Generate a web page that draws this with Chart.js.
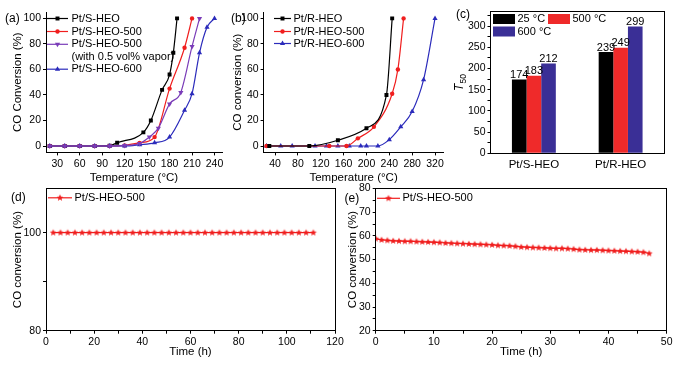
<!DOCTYPE html>
<html><head><meta charset="utf-8">
<script src="https://cdn.jsdelivr.net/npm/chart.js@4.4.1/dist/chart.umd.min.js"></script>
<style>
html,body{margin:0;padding:0;background:#fff;}
#wrap{position:relative;width:675px;height:365px;overflow:hidden;background:#fff;}
#wrap canvas{position:absolute;left:0;top:0;}
</style></head><body>
<div id="wrap">
<canvas id="ca" width="675" height="365"></canvas>
<canvas id="cb" width="675" height="365"></canvas>
<canvas id="cc" width="675" height="365"></canvas>
<canvas id="cd" width="675" height="365"></canvas>
<canvas id="ce" width="675" height="365"></canvas>
</div>
<script>
// ================= DATA =================
// (a)
const aSeriesNames = ['Pt/S-HEO', 'Pt/S-HEO-500', 'Pt/S-HEO-500', 'Pt/S-HEO-600'];
const aVaporNote = '(with 0.5 vol% vapor)';
const aTempSHEO = [20, 40, 60, 80, 100, 110, 145, 155, 170, 180, 185, 190];
const aConvSHEO = [0, 0, 0, 0, 0.3, 2.6, 10.7, 20, 44, 56, 73, 100];
const aTempSHEO500 = [20, 40, 60, 80, 100, 120, 140, 160, 180, 200, 210];
const aConvSHEO500 = [0, 0, 0, 0, 0, 0.5, 2.5, 7, 45, 77, 100];
const aTempVapor = [20, 40, 60, 80, 100, 120, 140, 153, 165, 180, 195, 210, 220];
const aConvVapor = [0, 0, 0, 0, 0, 0.5, 2, 7, 14, 33, 42, 78, 100];
const aTempSHEO600 = [20, 40, 60, 80, 100, 120, 140, 160, 180, 200, 210, 220, 230, 240];
const aConvSHEO600 = [0, 0, 0, 0, 0, 0, 1, 2.5, 7, 28, 41, 73, 93, 100];
const aTempTicks = [30, 60, 90, 120, 150, 180, 210, 240];
const convTicks = [0, 20, 40, 60, 80, 100];
// (b)
const bSeriesNames = ['Pt/R-HEO', 'Pt/R-HEO-500', 'Pt/R-HEO-600'];
const bTempRHEO = [30, 100, 150, 200, 235, 245];
const bConvRHEO = [0, 0, 4.5, 14, 40, 100];
const bTempRHEO500 = [25, 135, 165, 185, 213, 245, 255, 265];
const bConvRHEO500 = [0, 0, 0, 6, 15, 41, 60, 100];
const bTempRHEO600 = [25, 50, 70, 110, 130, 150, 170, 190, 200, 220, 240, 260, 280, 300, 320];
const bConvRHEO600 = [0, 0, 0, 0, 0, 0, 0, 0, 0, 0, 5, 15, 27, 52, 100];
const bTempTicks = [40, 80, 120, 160, 200, 240, 280, 320];
// (c)
const cCategories = ['Pt/S-HEO', 'Pt/R-HEO'];
const cSeriesNames = ['25 °C', '500 °C', '600 °C'];
const cT50at25 = [174, 239];
const cT50at500 = [183, 249];
const cT50at600 = [212, 299];
const cTicks = [0, 50, 100, 150, 200, 250, 300];
const cMinorTicks = [25, 75, 125, 175, 225, 275, 325];
// (d)
const dSeriesName = 'Pt/S-HEO-500';
const dTime = [3, 6, 9, 12, 15, 18, 21, 24, 27, 30, 33, 36, 39, 42, 45, 48, 51, 54, 57, 60, 63, 66, 69, 72, 75, 78, 81, 84, 87, 90, 93, 96, 99, 102, 105, 108, 111];
const dConv = [100, 100, 100, 100, 100, 100, 100, 100, 100, 100, 100, 100, 100, 100, 100, 100, 100, 100, 100, 100, 100, 100, 100, 100, 100, 100, 100, 100, 100, 100, 100, 100, 100, 100, 100, 100, 100];
const dTimeTicks = [0, 20, 40, 60, 80, 100, 120];
const dTimeMinor = [10, 30, 50, 70, 90, 110];
const dConvTicks = [80, 100];
const dConvMinor = [90];
// (e)
const eSeriesName = 'Pt/S-HEO-500';
const eTime = [0, 1, 2, 3, 4, 5, 6, 7, 8, 9, 10, 11, 12, 13, 14, 15, 16, 17, 18, 19, 20, 21, 22, 23, 24, 25, 26, 27, 28, 29, 30, 31, 32, 33, 34, 35, 36, 37, 38, 39, 40, 41, 42, 43, 44, 45, 46, 47];
const eConv = [58.8, 58.3, 58.1, 57.9, 57.8, 57.7, 57.7, 57.6, 57.5, 57.4, 57.3, 57.2, 57.0, 56.9, 56.8, 56.7, 56.6, 56.5, 56.4, 56.3, 56.2, 56.0, 55.9, 55.8, 55.6, 55.3, 55.2, 55.1, 55.0, 54.9, 54.8, 54.7, 54.7, 54.6, 54.4, 54.2, 54.1, 54.0, 54.0, 53.9, 53.8, 53.7, 53.6, 53.5, 53.4, 53.3, 53.1, 52.6];
const eTimeTicks = [0, 10, 20, 30, 40, 50];
const eTimeMinor = [5, 15, 25, 35, 45];
const eConvTicks = [20, 30, 40, 50, 60, 70, 80];
const eConvMinor = [25, 35, 45, 55, 65, 75];

// ================= STYLE / HELPERS =================
const FONT = "'Liberation Sans', Arial, Helvetica, sans-serif";
const TICK_PX = 10.5, TITLE_PX = 11.5, LEG_PX = 11, PANEL_PX = 12;
Chart.defaults.font.family = FONT;
Chart.defaults.color = '#000';
const BLACK = '#000000', RED = '#f01e1e', PURPLE = '#7a3cb8', BLUE = '#2b2bbb';
const BAR_BLACK = '#000000', BAR_RED = '#ef2a2a', BAR_BLUE = '#3a2f96';

function makeStar(color, r) {
  const size = Math.ceil(r * 2 + 2);
  const c = document.createElement('canvas');
  c.width = c.height = size;
  const g = c.getContext('2d');
  g.fillStyle = color;
  g.beginPath();
  for (let i = 0; i < 10; i++) {
    const rr = i % 2 ? r * 0.45 : r;
    const a = -Math.PI / 2 + i * Math.PI / 5;
    g.lineTo(size / 2 + rr * Math.cos(a), size / 2 + rr * Math.sin(a));
  }
  g.closePath(); g.fill();
  return c;
}
const STAR = makeStar(RED, 3.6);
const MK = {
  square: {style: 'rect', r: 2.8},
  circle: {style: 'circle', r: 2.2},
  down: {style: 'triangle', r: 3.0, rot: 180},
  up: {style: 'triangle', r: 3.0, rot: 0},
  star: {style: STAR, r: 3.6}
};

function pts(xs, ys) { return xs.map((x, i) => ({x: x, y: ys[i]})); }

function axis(o) {
  const minorSet = new Set(o.minor || []);
  const all = [...o.ticks, ...(o.minor || [])].sort((a, b) => a - b);
  return {
    type: 'linear', position: o.pos, min: o.min, max: o.max,
    border: {display: true, color: '#000', width: 1},
    grid: {display: true, drawOnChartArea: false, drawTicks: true, tickLength: 3, color: '#000', tickColor: '#000', lineWidth: 1},
    ticks: {autoSkip: false, maxRotation: 0, minRotation: 0, padding: 2, color: '#000', font: {size: TICK_PX},
      callback: v => minorSet.has(v) ? '' : String(v)},
    afterBuildTicks: s => { s.ticks = all.map(v => ({value: v})); },
    afterFit: s => { if (o.pos === 'left') s.width = o.size; else s.height = o.size; },
    title: o.title ? {display: true, text: o.title, color: '#000', font: {size: TITLE_PX}, padding: 0} : {display: false}
  };
}

function lineDs(label, data, color, m, order) {
  return {label, data, borderColor: color, backgroundColor: color, borderWidth: 1.2,
    pointStyle: m.style, pointRadius: m.r, pointHoverRadius: m.r, pointRotation: m.rot || 0,
    pointBackgroundColor: color, pointBorderColor: color, pointBorderWidth: 0,
    cubicInterpolationMode: 'monotone', fill: false, order: order};
}

function drawMarker(ctx, m, x, y, color) {
  ctx.save();
  ctx.fillStyle = color;
  if (m.style === 'rect') {
    const s = m.r * Math.SQRT1_2; ctx.fillRect(x - s, y - s, 2 * s, 2 * s);
  } else if (m.style === 'circle') {
    ctx.beginPath(); ctx.arc(x, y, m.r, 0, Math.PI * 2); ctx.fill();
  } else if (m.style === 'triangle') {
    let rad = (m.rot || 0) * Math.PI / 180;
    ctx.beginPath();
    for (let i = 0; i < 3; i++) { ctx.lineTo(x + Math.sin(rad) * m.r, y - Math.cos(rad) * m.r); rad += 2 * Math.PI / 3; }
    ctx.closePath(); ctx.fill();
  } else if (m.style instanceof HTMLCanvasElement) {
    ctx.drawImage(m.style, x - m.style.width / 2, y - m.style.height / 2);
  }
  ctx.restore();
}

function overlay(items) {
  return {
    id: 'overlay' + Math.random().toString(36).slice(2),
    afterDraw(chart) {
      const ctx = chart.ctx;
      items.forEach(it => {
        ctx.save();
        if (it.kind === 'line') {
          ctx.strokeStyle = it.color; ctx.lineWidth = 1.2;
          ctx.beginPath(); ctx.moveTo(it.x0, it.y); ctx.lineTo(it.x1, it.y); ctx.stroke();
          drawMarker(ctx, it.marker, (it.x0 + it.x1) / 2, it.y, it.color);
        } else if (it.kind === 'box') {
          ctx.fillStyle = it.color; ctx.fillRect(it.x0, it.y - it.h / 2, it.x1 - it.x0, it.h);
        } else if (it.kind === 'frame') {
          const a = chart.chartArea;
          const l = Math.round(a.left - 0.5) + 0.5, t = Math.round(a.top - 0.5) + 0.5;
          const r = Math.round(a.right - 0.5) + 0.5, b = Math.round(a.bottom - 0.5) + 0.5;
          ctx.strokeStyle = '#000'; ctx.lineWidth = 1; ctx.strokeRect(l, t, r - l, b - t);
        }
        if (it.text) {
          ctx.fillStyle = '#000';
          ctx.font = (it.font || (LEG_PX + 'px ' + FONT));
          ctx.textBaseline = 'middle'; ctx.textAlign = it.align || 'left';
          ctx.fillText(it.text, it.tx, it.y);
        }
        ctx.restore();
      });
    }
  };
}

function baseOptions(pad, scales) {
  return {
    responsive: false, animation: false, devicePixelRatio: 1,
    layout: {padding: pad},
    plugins: {legend: {display: false}, tooltip: {enabled: false}, title: {display: false}},
    events: [],
    scales: scales
  };
}
const PANEL_FONT = PANEL_PX + 'px ' + FONT;

// ================= PANEL (a) =================
new Chart(document.getElementById('ca'), {
  type: 'line',
  data: {datasets: [
    lineDs(aSeriesNames[0], pts(aTempSHEO, aConvSHEO), BLACK, MK.square, 3),
    lineDs(aSeriesNames[1], pts(aTempSHEO500, aConvSHEO500), RED, MK.circle, 2),
    lineDs(aSeriesNames[2], pts(aTempVapor, aConvVapor), PURPLE, MK.down, 0),
    lineDs(aSeriesNames[3], pts(aTempSHEO600, aConvSHEO600), BLUE, MK.up, 1)
  ]},
  options: baseOptions({left: 11.1, top: 12, right: 453, bottom: 180.6}, {
    x: axis({pos: 'bottom', min: 15, max: 250, ticks: aTempTicks, size: 32.0, title: 'Temperature (°C)'}),
    y: axis({pos: 'left', min: -5, max: 105, ticks: convTicks, size: 34.9, title: 'CO Conversion (%)'})
  }),
  plugins: [overlay([
    {text: '(a)', tx: 5, y: 19, font: PANEL_FONT},
    {kind: 'line', x0: 47, x1: 68, y: 18.5, color: BLACK, marker: MK.square, text: aSeriesNames[0], tx: 71.5},
    {kind: 'line', x0: 47, x1: 68, y: 31.5, color: RED, marker: MK.circle, text: aSeriesNames[1], tx: 71.5},
    {kind: 'line', x0: 47, x1: 68, y: 44.3, color: PURPLE, marker: MK.down, text: aSeriesNames[2], tx: 71.5},
    {text: aVaporNote, tx: 71.5, y: 56.8},
    {kind: 'line', x0: 47, x1: 68, y: 69.2, color: BLUE, marker: MK.up, text: aSeriesNames[3], tx: 71.5}
  ])]
});

// ================= PANEL (b) =================
new Chart(document.getElementById('cb'), {
  type: 'line',
  data: {datasets: [
    lineDs(bSeriesNames[0], pts(bTempRHEO, bConvRHEO), BLACK, MK.square, 0),
    lineDs(bSeriesNames[1], pts(bTempRHEO500, bConvRHEO500), RED, MK.circle, 1),
    lineDs(bSeriesNames[2], pts(bTempRHEO600, bConvRHEO600), BLUE, MK.up, 2)
  ]},
  options: baseOptions({left: 231.4, top: 12, right: 231.4, bottom: 180.6}, {
    x: axis({pos: 'bottom', min: 20, max: 335, ticks: bTempTicks, size: 32.0, title: 'Temperature (°C)'}),
    y: axis({pos: 'left', min: -5, max: 105, ticks: convTicks, size: 32.2, title: 'CO conversion (%)'})
  }),
  plugins: [overlay([
    {text: '(b)', tx: 231, y: 19, font: PANEL_FONT},
    {kind: 'line', x0: 274, x1: 291, y: 18.5, color: BLACK, marker: MK.square, text: bSeriesNames[0], tx: 293.5},
    {kind: 'line', x0: 274, x1: 291, y: 31.5, color: RED, marker: MK.circle, text: bSeriesNames[1], tx: 293.5},
    {kind: 'line', x0: 274, x1: 291, y: 43.5, color: BLUE, marker: MK.up, text: bSeriesNames[2], tx: 293.5}
  ])]
});

// ================= PANEL (c) =================
const barValuePlugin = {
  id: 'barValues',
  afterDatasetsDraw(chart) {
    const ctx = chart.ctx;
    ctx.save();
    ctx.font = '11px ' + FONT; ctx.fillStyle = '#000';
    ctx.textAlign = 'center'; ctx.textBaseline = 'bottom';
    chart.data.datasets.forEach((ds, di) => {
      chart.getDatasetMeta(di).data.forEach((bar, i) => {
        ctx.fillText(String(ds.data[i]), bar.x, bar.y + 1);
      });
    });
    ctx.restore();
  }
};
const t50Plugin = {
  id: 't50',
  afterDraw(chart) {
    const ctx = chart.ctx;
    const a = chart.chartArea;
    ctx.save();
    ctx.translate(460.5, (a.top + a.bottom) / 2);
    ctx.rotate(-Math.PI / 2);
    ctx.fillStyle = '#000';
    ctx.textBaseline = 'middle'; ctx.textAlign = 'left';
    ctx.font = 'italic 12px ' + FONT;
    const wT = ctx.measureText('T').width;
    ctx.font = '8.5px ' + FONT;
    const w5 = ctx.measureText('50').width;
    const x0 = -(wT + w5) / 2;
    ctx.font = 'italic 12px ' + FONT;
    ctx.fillText('T', x0, -1);
    ctx.font = '8.5px ' + FONT;
    ctx.fillText('50', x0 + wT, 3);
    ctx.restore();
  }
};
const cY = axis({pos: 'left', min: 0, max: 334, ticks: cTicks, minor: cMinorTicks, size: 35.5});
new Chart(document.getElementById('cc'), {
  type: 'bar',
  data: {labels: cCategories, datasets: [
    {label: cSeriesNames[0], data: cT50at25, backgroundColor: BAR_BLACK, barPercentage: 1, categoryPercentage: 0.506},
    {label: cSeriesNames[1], data: cT50at500, backgroundColor: BAR_RED, barPercentage: 1, categoryPercentage: 0.506},
    {label: cSeriesNames[2], data: cT50at600, backgroundColor: BAR_BLUE, barPercentage: 1, categoryPercentage: 0.506}
  ]},
  options: baseOptions({left: 455, top: 11.7, right: 11, bottom: 191.7}, {
    x: {type: 'category', position: 'bottom', offset: true,
      border: {display: true, color: '#000', width: 1},
      grid: {display: true, drawOnChartArea: false, drawTicks: false, offset: false},
      ticks: {padding: 5, color: '#000', font: {size: 11.5}, maxRotation: 0},
      afterFit: s => { s.height = 20; }},
    y: cY
  }),
  plugins: [barValuePlugin, t50Plugin, overlay([
    {kind: 'frame'},
    {text: '(c)', tx: 456, y: 15, font: PANEL_FONT},
    {kind: 'box', x0: 493, x1: 515, y: 19, h: 10, color: BAR_BLACK, text: cSeriesNames[0], tx: 517.5},
    {kind: 'box', x0: 548, x1: 570, y: 19, h: 10, color: BAR_RED, text: cSeriesNames[1], tx: 572.5},
    {kind: 'box', x0: 493, x1: 515, y: 31.5, h: 10, color: BAR_BLUE, text: cSeriesNames[2], tx: 517.5}
  ])]
});

// ================= PANEL (d) =================
new Chart(document.getElementById('cd'), {
  type: 'line',
  data: {datasets: [lineDs(dSeriesName, pts(dTime, dConv), RED, MK.star, 0)]},
  options: baseOptions({left: 11.4, top: 188.5, right: 340, bottom: 5.8}, {
    x: axis({pos: 'bottom', min: 0, max: 120, ticks: dTimeTicks, minor: dTimeMinor, size: 28.5, title: 'Time (h)'}),
    y: axis({pos: 'left', min: 80, max: 109, ticks: dConvTicks, minor: dConvMinor, size: 34.6, title: 'CO conversion (%)'})
  }),
  plugins: [overlay([
    {kind: 'frame'},
    {text: '(d)', tx: 11, y: 197.5, font: PANEL_FONT},
    {kind: 'line', x0: 48, x1: 72, y: 197.8, color: RED, marker: MK.star, text: dSeriesName, tx: 74.5}
  ])]
});

// ================= PANEL (e) =================
new Chart(document.getElementById('ce'), {
  type: 'line',
  data: {datasets: [lineDs(eSeriesName, pts(eTime, eConv), RED, MK.star, 0)]},
  options: baseOptions({left: 346.1, top: 188.5, right: 8.3, bottom: 5.8}, {
    x: axis({pos: 'bottom', min: 0, max: 50, ticks: eTimeTicks, minor: eTimeMinor, size: 28.5, title: 'Time (h)'}),
    y: axis({pos: 'left', min: 20, max: 80, ticks: eConvTicks, minor: eConvMinor, size: 29.6, title: 'CO conversion (%)'})
  }),
  plugins: [overlay([
    {kind: 'frame'},
    {text: '(e)', tx: 344.5, y: 198.3, font: PANEL_FONT},
    {kind: 'line', x0: 377, x1: 400, y: 198.3, color: RED, marker: MK.star, text: eSeriesName, tx: 402.5}
  ])]
});
</script>
</body></html>
